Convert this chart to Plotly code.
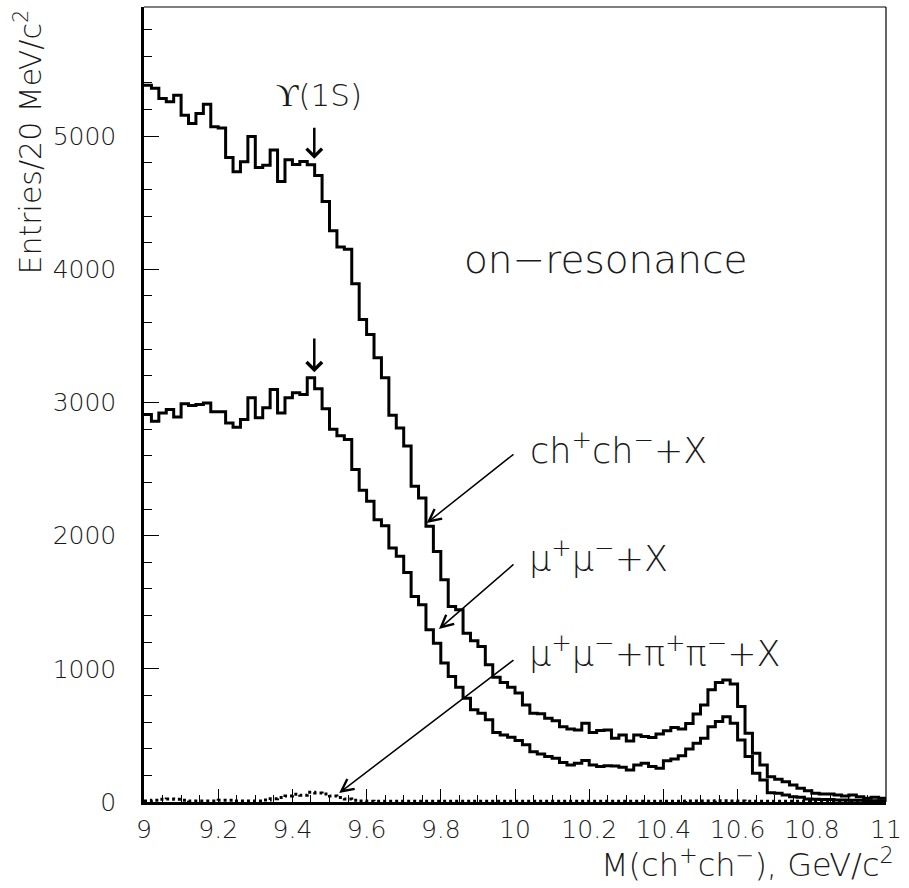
import plotly.graph_objects as go

# ---------------- data ----------------
bin_start = 9.0
bin_width = 0.02
n_bins = 100
edges = [round(bin_start + i * bin_width, 2) for i in range(n_bins + 1)]

ch_ch_X = [5383, 5359, 5283, 5258, 5308, 5158, 5095, 5170, 5240, 5070,
           5062, 4840, 4732, 4807, 4998, 4765, 4782, 4897, 4659, 4822,
           4787, 4810, 4785, 4705, 4510, 4290, 4168, 4150, 3892, 3624,
           3511, 3336, 3185, 2905, 2809, 2674, 2371, 2283, 2070, 1882,
           1669, 1468, 1444, 1268, 1210, 1168, 1030, 936, 898, 861,
           818, 729, 667, 662, 629, 611, 566, 549, 541, 592,
           521, 536, 541, 479, 504, 459, 504, 491, 485, 511,
           535, 560, 548, 589, 660, 729, 842, 897, 917, 887,
           717, 516, 366, 278, 190, 171, 153, 128, 103, 85,
           65, 60, 60, 53, 45, 53, 40, 28, 35, 28]

mu_mu_X = [2910, 2860, 2922, 2947, 2892, 2990, 2977, 2985, 2997, 2930,
           2930, 2847, 2814, 2872, 3035, 2885, 2960, 3098, 2922, 3035,
           3073, 3060, 3185, 3103, 2953, 2800, 2750, 2722, 2496, 2341,
           2258, 2120, 2075, 1907, 1845, 1724, 1544, 1481, 1293, 1193,
           1043, 942, 862, 780, 692, 667, 617, 521, 504, 486,
           461, 429, 378, 361, 341, 329, 296, 278, 291, 311,
           278, 266, 273, 271, 261, 241, 278, 291, 266, 253,
           310, 322, 347, 398, 441, 479, 566, 604, 641, 592,
           466, 341, 216, 165, 70, 65, 53, 40, 35, 23,
           20, 18, 18, 15, 15, 13, 13, 10, 10, 10]

mu_mu_pi_pi_X = [8, 13, 20, 22, 20, 13, 8, 8, 8, 8,
                 13, 13, 8, 8, 8, 8, 15, 25, 33, 45,
                 58, 50, 73, 68, 60, 45, 33, 22, 13, 8,
                 6, 5, 5, 5, 5, 5, 5, 5, 5, 5,
                 5, 5, 5, 5, 5, 5, 5, 5, 5, 5,
                 5, 5, 5, 5, 5, 5, 5, 5, 5, 5,
                 5, 5, 5, 5, 5, 5, 5, 5, 5, 5,
                 6, 6, 6, 7, 7, 8, 8, 9, 9, 8,
                 7, 6, 5, 5, 5, 5, 5, 5, 5, 5,
                 5, 5, 5, 5, 5, 5, 5, 5, 5, 5]

x_range = [9.0, 11.0]
y_range = [0, 5970]
x_tick_step = 0.2
y_tick_step = 1000

FONT = "DejaVu Sans"
TXT = "#1a1a1a"
W = 200

fig = go.Figure()


def step(vals, dash="solid", width=3):
    return go.Scatter(x=edges, y=list(vals) + [vals[-1]], mode="lines",
                      line=dict(shape="hv", color="black", width=width, dash=dash),
                      hoverinfo="skip", showlegend=False)


fig.add_trace(step(ch_ch_X))
fig.add_trace(step(mu_mu_X))
fig.add_trace(step(mu_mu_pi_pi_X, dash="dot", width=3))

fig.update_xaxes(range=x_range, dtick=x_tick_step, tick0=9, ticks="inside",
                 ticklen=13, tickwidth=1, tickcolor="black",
                 minor=dict(dtick=0.05, ticks="inside", ticklen=7, tickcolor="black", tickwidth=1),
                 showline=True, linewidth=2.5, linecolor="black", mirror=False,
                 showgrid=False, zeroline=False,
                 tickfont=dict(family=FONT, size=25, color=TXT, weight=W),
                 ticklabelstandoff=3)
fig.update_yaxes(range=y_range, dtick=y_tick_step, tick0=0, ticks="inside",
                 ticklen=15, tickwidth=1, tickcolor="black",
                 minor=dict(dtick=200, ticks="inside", ticklen=8, tickcolor="black", tickwidth=1),
                 showline=True, linewidth=2.5, linecolor="black", mirror=False,
                 showgrid=False, zeroline=False,
                 tickfont=dict(family=FONT, size=25, color=TXT, weight=W),
                 ticklabelstandoff=20)

shapes = [
    dict(type="line", xref="paper", yref="paper", x0=0, x1=1, y0=1, y1=1,
         line=dict(color="black", width=1.2)),
    dict(type="line", xref="paper", yref="paper", x0=1, x1=1, y0=0, y1=1,
         line=dict(color="black", width=1.2)),
]

ann = []
# axis titles
ann.append(dict(xref="paper", yref="paper", x=-0.155, y=1.0, xanchor="center", yanchor="top",
                text="Entries/20 MeV/c<sup>2</sup>", textangle=-90, showarrow=False,
                font=dict(family=FONT, size=30, color=TXT, weight=W)))
ann.append(dict(xref="paper", yref="paper", x=1.013, y=-0.077, xanchor="right", yanchor="middle",
                text="M(ch<sup>+</sup>ch<sup>−</sup>), GeV/c<sup>2</sup>", showarrow=False,
                font=dict(family=FONT, size=32, color=TXT, weight=W)))
# labels
ann.append(dict(xref="x", yref="y", x=9.472, y=5308, text="ϒ(1S)", showarrow=False,
                font=dict(family=FONT, size=31, color=TXT, weight=W)))
ann.append(dict(xref="x", yref="y", x=9.856, y=4077, xanchor="left", text="on−resonance",
                showarrow=False, font=dict(family=FONT, size=39, color=TXT, weight=W)))
ann.append(dict(xref="x", yref="y", x=10.036, y=2660, xanchor="left",
                text="ch<sup>+</sup>ch<sup>−</sup>+X",
                showarrow=False, font=dict(family=FONT, size=35, color=TXT, weight=W)))
ann.append(dict(xref="x", yref="y", x=10.031, y=1850, xanchor="left",
                text="μ<sup>+</sup>μ<sup>−</sup>+X",
                showarrow=False, font=dict(family=FONT, size=35, color=TXT, weight=W)))
ann.append(dict(xref="x", yref="y", x=10.031, y=1135, xanchor="left",
                text="μ<sup>+</sup>μ<sup>−</sup>+π<sup>+</sup>π<sup>−</sup>+X",
                showarrow=False, font=dict(family=FONT, size=35, color=TXT, weight=W)))
# arrows for Upsilon(1S)
for tip, tail in [(4830, 5075), (3228, 3491)]:
    ann.append(dict(xref="x", yref="y", axref="x", ayref="y", x=9.459, y=tip, ax=9.459, ay=tail,
                    text="", showarrow=True, arrowhead=4, arrowsize=1.2, arrowwidth=2.5,
                    arrowcolor="black"))
# label arrows
for (tx, ty), (hx, hy) in [((10.0, 2620), (9.762, 2095)),
                           ((10.0, 1794), (9.795, 1299)),
                           ((10.0, 1074), (9.526, 68))]:
    ann.append(dict(xref="x", yref="y", axref="x", ayref="y", x=hx, y=hy, ax=tx, ay=ty,
                    text="", showarrow=True, arrowhead=5, arrowsize=1.6, arrowwidth=1.5,
                    arrowcolor="black"))

fig.update_layout(width=909, height=888,
                  margin=dict(l=144, r=20, t=7, b=86),
                  paper_bgcolor="white", plot_bgcolor="white",
                  shapes=shapes, annotations=ann, showlegend=False)

fig.write_html("out.html", config={"displayModeBar": False},
               post_script="document.body.style.margin='0';")
